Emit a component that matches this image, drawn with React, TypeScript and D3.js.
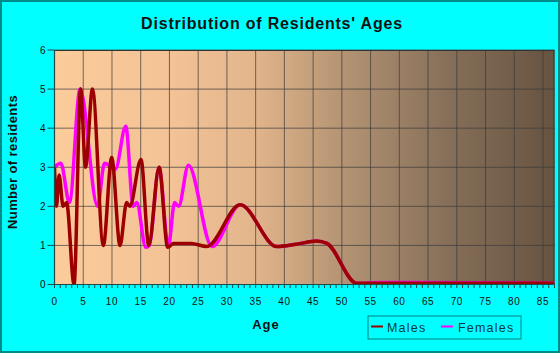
import React from 'react';
import * as d3 from 'd3';

const width = 560;
const height = 353;
const margin = { top: 50, right: 5.5, bottom: 68.5, left: 54.5 };

// ages (x) and counts (y), at the curve's turning points
const maleAges = [0, 0.35, 0.8, 1.5, 2.1, 3.4, 4.55, 5.4, 6.6, 8.5, 9.95, 11.4, 12.55, 13.1, 15.05, 16.4, 18.2, 19.7, 20.7, 23.8, 26.5, 32.3, 38.7, 42.1, 45.6, 47.4, 52.6, 87];
const maleCounts = [3, 2, 2.8, 2, 2.1, 0, 5, 3, 5, 1, 3.25, 1, 2.1, 2, 3.2, 1, 3, 0.95, 1.05, 1.05, 0.97, 2.04, 0.97, 1.03, 1.11, 1.05, 0.03, 0.03];

const femaleAges = [0, 1.1, 2.6, 4.45, 7.5, 8.7, 10.6, 12.4, 13.7, 14.3, 15.9, 16.5, 18.2, 19.8, 20.9, 21.6, 23.3, 27.4, 32.3, 38.7, 42.1, 45.6, 47.4, 52.6, 56.6, 87];
const femaleCounts = [3, 3.1, 2.1, 5, 2, 3.1, 2.95, 4.05, 2, 2.1, 0.95, 1, 3, 0.97, 2.1, 2, 3.05, 0.97, 2.04, 0.97, 1.03, 1.11, 1.05, 0.03, 0.05, 0.03];

const xTicks = d3.range(0, 86, 5);
const yTicks = d3.range(0, 7);

const App = () => {
  const innerWidth = width - margin.left - margin.right;
  const innerHeight = height - margin.top - margin.bottom;

  const xScale = d3.scaleLinear().domain([0, 87]).range([0, innerWidth]);
  const yScale = d3.scaleLinear().domain([0, 6]).range([innerHeight, 0]);

  const lineGen = d3
    .line<[number, number]>()
    .x(d => xScale(d[0]))
    .y(d => yScale(d[1]))
    .curve(d3.curveMonotoneX);

  const males = maleAges.map((a, i) => [a, maleCounts[i]] as [number, number]);
  const females = femaleAges.map((a, i) => [a, femaleCounts[i]] as [number, number]);

  const font = 'Arial, "Liberation Sans", sans-serif';

  return (
    <svg width={width} height={height} style={{ position: 'absolute', left: 0, top: 0, display: 'block' }}>
      <defs>
        <linearGradient id="bg" x1="0" x2="1" y1="0" y2="0">
          <stop offset="0%" stopColor="#fdcc9b" />
          <stop offset="25%" stopColor="#f2c195" />
          <stop offset="40%" stopColor="#e2b58b" />
          <stop offset="58%" stopColor="#b39373" />
          <stop offset="78%" stopColor="#87705a" />
          <stop offset="100%" stopColor="#665340" />
        </linearGradient>
        <clipPath id="plot">
          <rect x={0} y={-2} width={innerWidth} height={innerHeight + 2} />
        </clipPath>
      </defs>
      <rect x={1} y={1} width={width - 2} height={height - 2} fill="#00ffff" stroke="#008b8b" strokeWidth={2} />

      <text x={272} y={29} textAnchor="middle" fontFamily={font} fontWeight="bold" fontSize={16} letterSpacing={0.8} fill="#111">
        Distribution of Residents' Ages
      </text>

      <g transform={`translate(${margin.left},${margin.top})`}>
        <rect width={innerWidth} height={innerHeight} fill="url(#bg)" />

        {/* grid */}
        {xTicks.filter(t => t > 0).map(t => (
          <line key={t} x1={xScale(t)} x2={xScale(t)} y1={0} y2={innerHeight} stroke="#3a3a3a" strokeOpacity={0.7} />
        ))}
        {yTicks.filter(t => t > 0).map(t => (
          <line key={t} x1={0} x2={innerWidth} y1={yScale(t)} y2={yScale(t)} stroke="#3a3a3a" strokeOpacity={0.7} />
        ))}
        <line x1={0} x2={innerWidth} y1={0.5} y2={0.5} stroke="#333" />
        <line x1={innerWidth - 0.5} x2={innerWidth - 0.5} y1={0} y2={innerHeight} stroke="#333" />

        {/* series */}
        <g clipPath="url(#plot)">
          <path d={lineGen(females) || ''} fill="none" stroke="#ff00ff" strokeWidth={3.5} strokeLinejoin="round" />
          <path d={lineGen(males) || ''} fill="none" stroke="#9c0000" strokeWidth={3.5} strokeLinejoin="round" />
        </g>

        {/* axes */}
        <line x1={0} x2={0} y1={0} y2={innerHeight} stroke="#1d4a4a" strokeWidth={1.2} />
        <line x1={0} x2={innerWidth} y1={innerHeight} y2={innerHeight} stroke="#1d4a4a" strokeWidth={1.2} />
        {d3.range(0, 88).map(t => (
          <line key={t} x1={xScale(t)} x2={xScale(t)} y1={innerHeight} y2={innerHeight + 3.5} stroke="#1d4a4a" />
        ))}
        {yTicks.map(t => (
          <g key={t} transform={`translate(0,${yScale(t)})`}>
            <line x1={-7} x2={0} stroke="#1d4a4a" />
            <text x={-9} dy="0.35em" textAnchor="end" fontFamily={font} fontSize={10} fill="#111">
              {t}
            </text>
          </g>
        ))}
        {xTicks.map(t => (
          <text key={t} x={xScale(t)} y={innerHeight + 20} textAnchor="middle" fontFamily={font} fontSize={10} letterSpacing={0.6} fill="#111">
            {t}
          </text>
        ))}
      </g>

      <text x={266} y={329} textAnchor="middle" fontFamily={font} fontWeight="bold" fontSize={13} letterSpacing={1} fill="#111">
        Age
      </text>
      <text
        transform={`translate(17,${margin.top + 112}) rotate(-90)`}
        textAnchor="middle"
        fontFamily={font}
        fontWeight="bold"
        fontSize={13}
        letterSpacing={0.4}
        fill="#111"
      >
        Number of residents
      </text>

      {/* legend */}
      <g transform="translate(368,316)">
        <rect x={0} y={0} width={153} height={23} fill="none" stroke="#0b8080" />
        <line x1={3} x2={15} y1={10.5} y2={10.5} stroke="#9c0000" strokeWidth={2} />
        <text x={19} y={15.5} fontFamily={font} fontSize={12.5} letterSpacing={1.2} fill="#0b3b3b">
          Males
        </text>
        <line x1={73} x2={85} y1={10.5} y2={10.5} stroke="#ff00ff" strokeWidth={2} />
        <text x={90} y={15.5} fontFamily={font} fontSize={12.5} letterSpacing={1.2} fill="#0b3b3b">
          Females
        </text>
      </g>
    </svg>
  );
};

export default App;
